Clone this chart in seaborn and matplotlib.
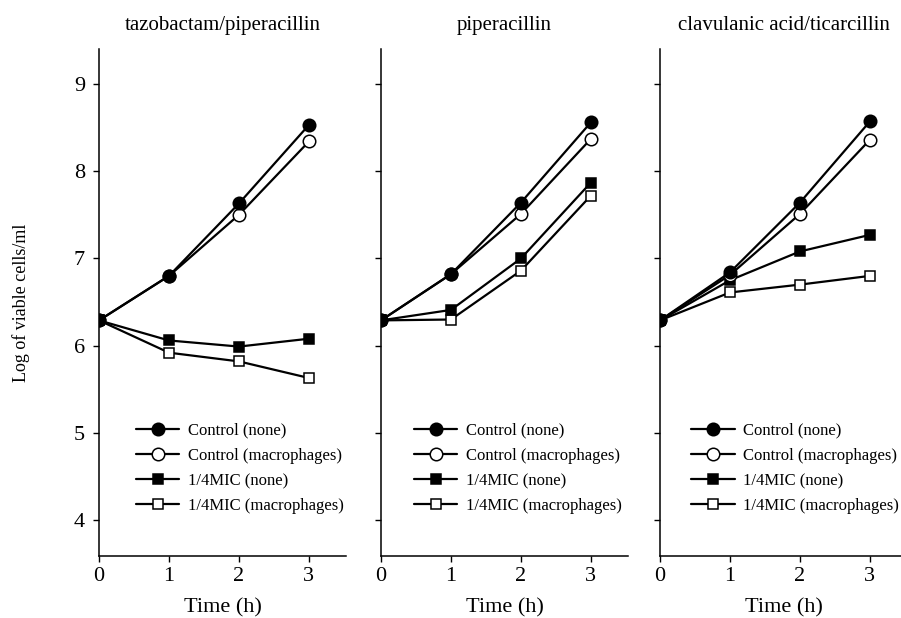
import matplotlib
matplotlib.use("Agg")
import matplotlib.pyplot as plt
import seaborn as sns
import pandas as pd

sns.set_theme(style="ticks")
plt.rcParams['font.family'] = ['Liberation Serif', 'DejaVu Serif']

time_h = [0, 1, 2, 3]
panels = ["tazobactam/piperacillin", "piperacillin", "clavulanic acid/ticarcillin"]
series_labels = ["Control (none)", "Control (macrophages)", "1/4MIC (none)", "1/4MIC (macrophages)"]

tazo_control_none = [6.29, 6.80, 7.63, 8.53]
tazo_control_macro = [6.29, 6.80, 7.50, 8.34]
tazo_mic_none = [6.29, 6.06, 5.99, 6.08]
tazo_mic_macro = [6.29, 5.92, 5.82, 5.63]

pip_control_none = [6.29, 6.82, 7.64, 8.56]
pip_control_macro = [6.29, 6.82, 7.51, 8.37]
pip_mic_none = [6.29, 6.41, 7.00, 7.87]
pip_mic_macro = [6.29, 6.30, 6.86, 7.72]

clav_control_none = [6.29, 6.84, 7.64, 8.57]
clav_control_macro = [6.29, 6.81, 7.51, 8.36]
clav_mic_none = [6.29, 6.75, 7.08, 7.27]
clav_mic_macro = [6.29, 6.61, 6.70, 6.80]

data = {
    panels[0]: [tazo_control_none, tazo_control_macro, tazo_mic_none, tazo_mic_macro],
    panels[1]: [pip_control_none, pip_control_macro, pip_mic_none, pip_mic_macro],
    panels[2]: [clav_control_none, clav_control_macro, clav_mic_none, clav_mic_macro],
}

styles = [
    dict(marker='o', markerfacecolor='black', markersize=9, zorder=8),
    dict(marker='o', markerfacecolor='white', markersize=9, zorder=7),
    dict(marker='s', markerfacecolor='black', markersize=7.5, zorder=6),
    dict(marker='s', markerfacecolor='white', markersize=7.5, zorder=5),
]

W, H = 901, 618
fig = plt.figure(figsize=(W / 100, H / 100), dpi=100)

lefts = [99, 381, 660]
legend_x = [0.103, 0.087, 0.079]
width = 247
top, bottom = 49, 556

for i, name in enumerate(panels):
    l = lefts[i]
    ax = fig.add_axes([l / W, 1 - bottom / H, width / W, (bottom - top) / H])
    for lab, vals, st in zip(series_labels, data[name], styles):
        df = pd.DataFrame({"t": time_h, "v": vals})
        sns.lineplot(data=df, x="t", y="v", ax=ax, color='black', linewidth=1.6,
                     markeredgecolor='black', markeredgewidth=1.1, label=lab, **st)
    ax.set_xlim(0, 3.53)
    ax.set_ylim(3.59, 9.4)
    ax.set_xticks([0, 1, 2, 3])
    ax.set_yticks([4, 5, 6, 7, 8, 9])
    for s in ['top', 'right']:
        ax.spines[s].set_visible(False)
    for s in ['left', 'bottom']:
        ax.spines[s].set_linewidth(1.1)
        ax.spines[s].set_color('black')
    ax.tick_params(axis='both', direction='out', length=4, width=1, colors='black',
                   labelsize=16)
    ax.tick_params(axis='x', pad=4)
    ax.tick_params(axis='y', pad=6)
    if i > 0:
        ax.set_yticklabels([])
    ax.set_xlabel("Time (h)", fontsize=16, labelpad=9, color='black')
    if i == 0:
        ax.set_ylabel("Log of viable cells/ml", fontsize=13, color='black')
        ax.yaxis.set_label_coords(-0.28, 0.5)
    else:
        ax.set_ylabel("")
    ax.set_title(name, fontsize=15, pad=14, color='black')
    ax.set_facecolor('white')
    leg = ax.legend(loc='upper left', bbox_to_anchor=(legend_x[i], 0.286), frameon=False,
                    fontsize=12, handlelength=2.6, handletextpad=0.5,
                    labelspacing=0.55, borderpad=0.2)
    for t in leg.get_texts():
        t.set_color('black')

fig.savefig("out.png", dpi=100, facecolor='white')
